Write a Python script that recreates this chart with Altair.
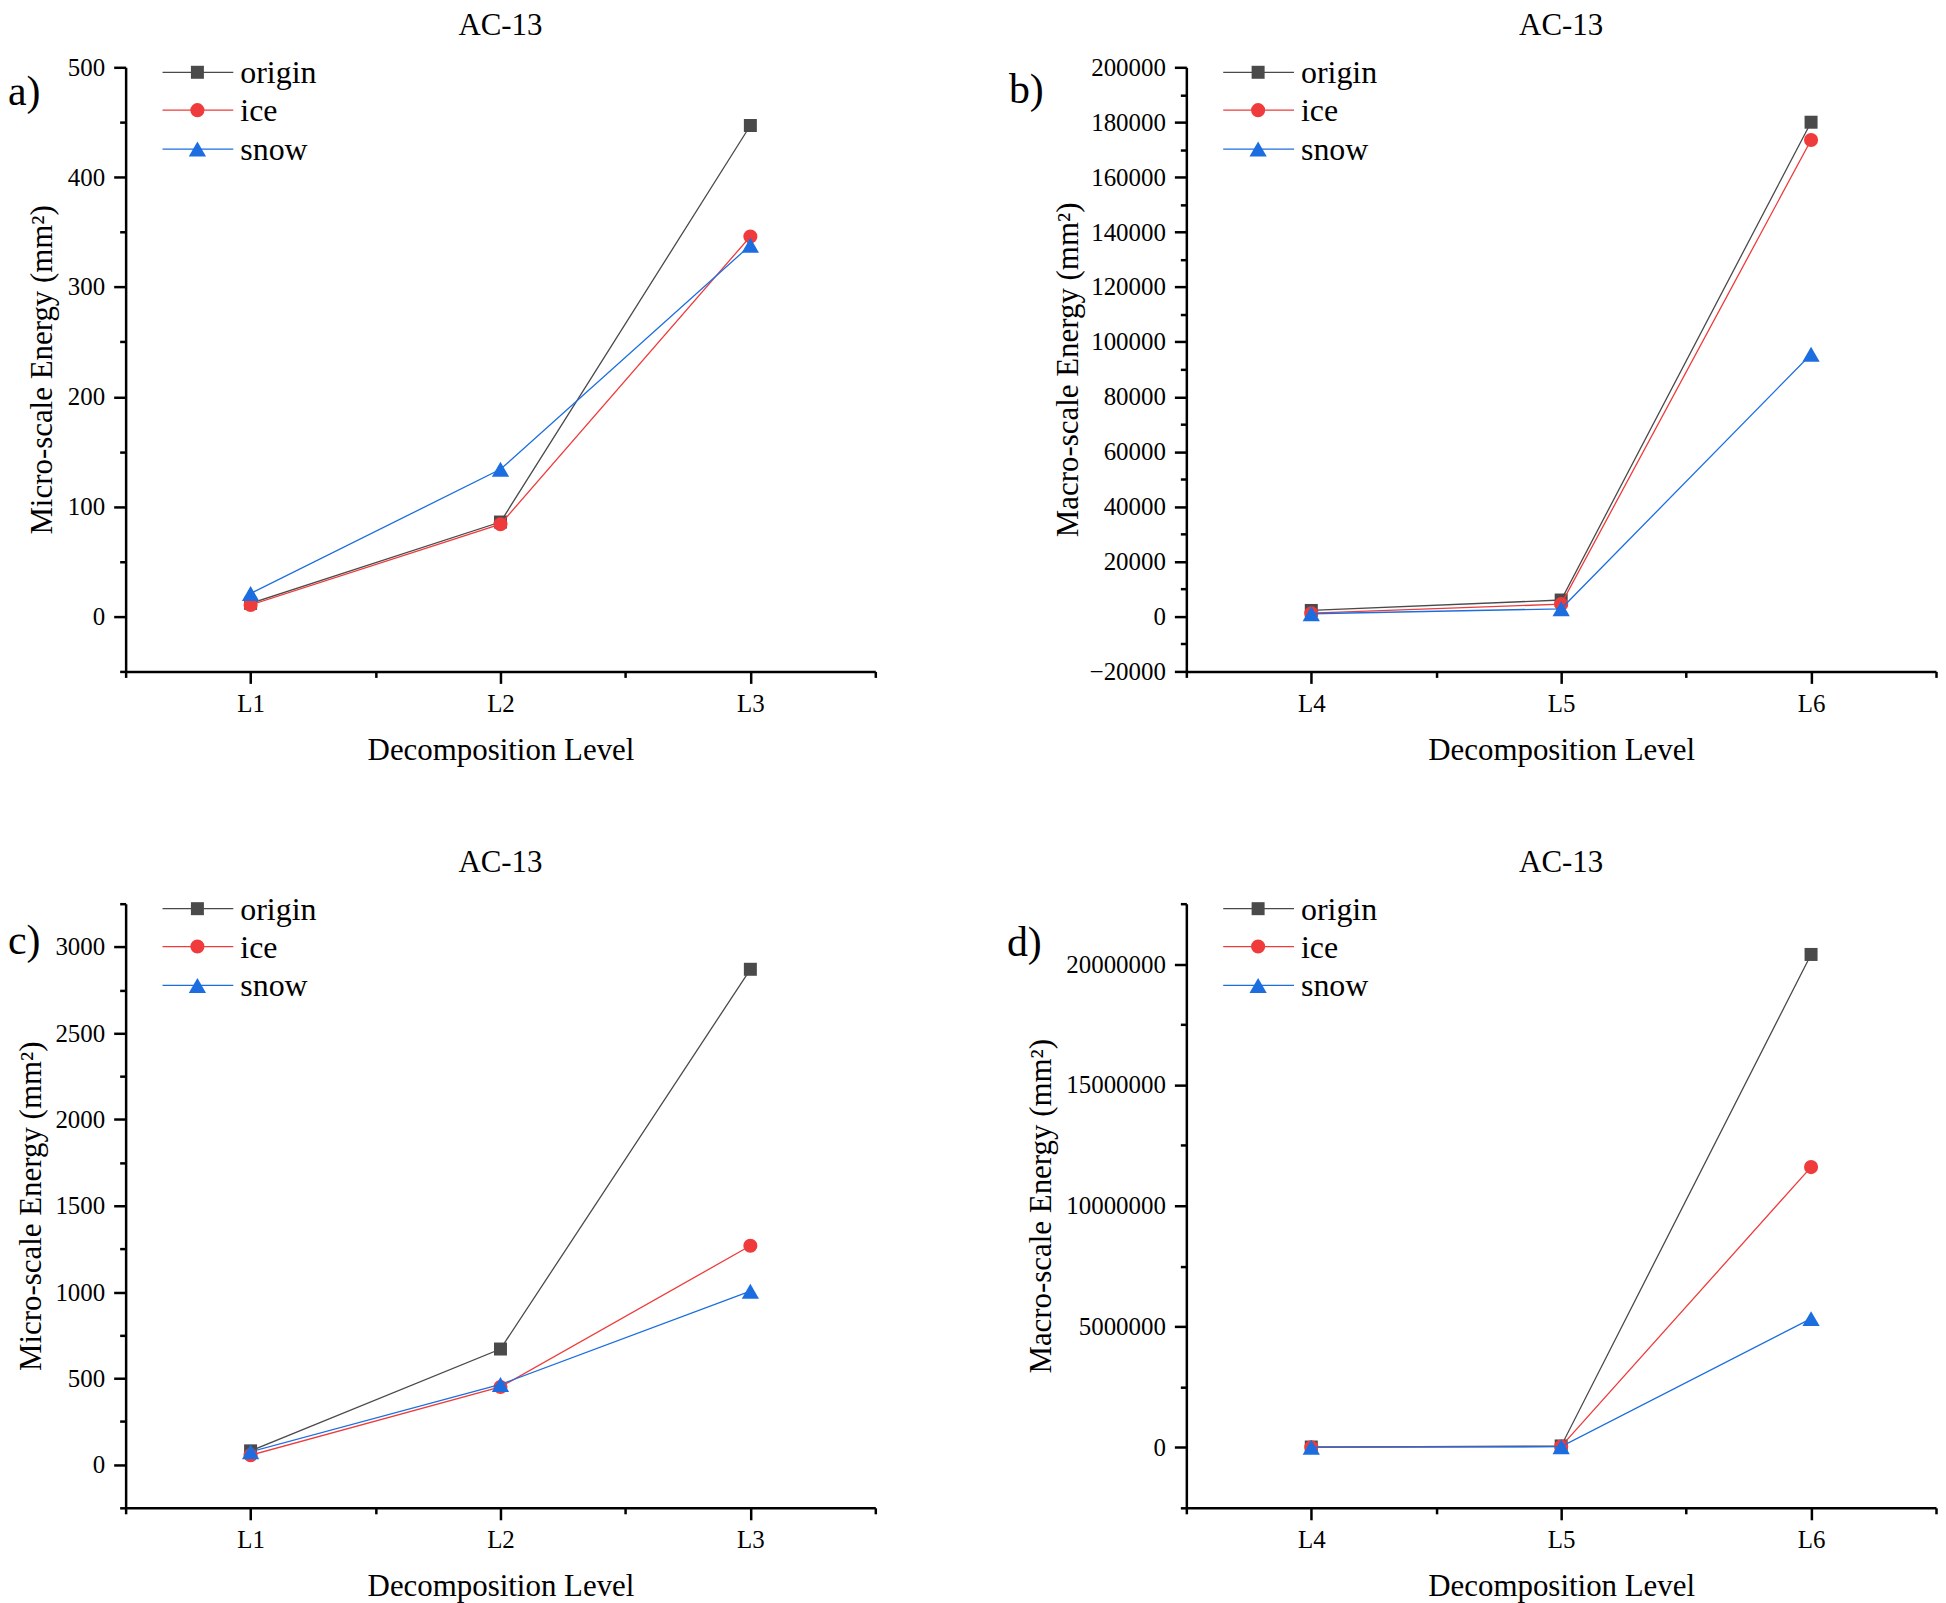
import altair as alt
import pandas as pd

FONT = "Liberation Serif"

series = ["origin", "ice", "snow"]
colors = ["#4a4a4a", "#ef3b3b", "#1c6ee0"]
shapes = ["square", "circle", "triangle-up"]
sizes = [170, 200, 300]

levels_micro = ["L1", "L2", "L3"]
levels_macro = ["L4", "L5", "L6"]

# panel a) micro-scale, first set
a_origin = [12, 86, 447]
a_ice = [10.5, 84, 346]
a_snow = [21, 134, 338]

# panel b) macro-scale, first set
b_origin = [2200, 6000, 180000]
b_ice = [1200, 4500, 173500]
b_snow = [1000, 2800, 95500]

# panel c) micro-scale, second set
c_origin = [80, 670, 2870]
c_ice = [55, 450, 1268]
c_snow = [75, 465, 1005]

# panel d) macro-scale, second set
d_origin = [15000, 60000, 20400000]
d_ice = [8000, 40000, 11600000]
d_snow = [10000, 30000, 5330000]

W, H = 752, 606


def frange(lo, hi, step):
    out = []
    v = lo
    while v <= hi + step * 1e-6:
        out.append(int(v))
        v += step
    return out


def panel(levels, vals, ydom, ymajor, yminor, ytitle, letter, letter_dx, letter_dy, title_pad):
    rows = []
    for s, v in zip(series, vals):
        for i, (lv, y) in enumerate(zip(levels, v)):
            rows.append({"series": s, "pos": i + 1, "level": lv, "value": y})
    df = pd.DataFrame(rows)
    arr = "[" + ",".join("'%s'" % l for l in levels) + "]"

    xaxis = alt.Axis(
        values=[0.5, 1, 1.5, 2, 2.5, 3, 3.5],
        labelExpr="datum.value %% 1 == 0 ? %s[datum.value - 1] : ''" % arr,
        tickSize={"condition": {"test": "datum.value % 1 == 0", "value": 12}, "value": 6},
        title="Decomposition Level",
        labelPadding=8,
        titlePadding=19,
    )
    yaxis = alt.Axis(
        values=frange(ydom[0], ydom[1], yminor),
        format="d",
        labelExpr="datum.value %% %d == 0 ? datum.label : ''" % ymajor,
        tickSize={"condition": {"test": "datum.value %% %d == 0" % ymajor, "value": 12}, "value": 6},
        title=ytitle,
        labelPadding=9,
        titlePadding=title_pad,
    )
    x = alt.X("pos:Q", scale=alt.Scale(domain=[0.5, 3.5], nice=False, zero=False), axis=xaxis)
    y = alt.Y("value:Q", scale=alt.Scale(domain=ydom, nice=False, zero=False), axis=yaxis)

    base = alt.Chart(df)
    layers = []
    for s, c, sh, sz in zip(series, colors, shapes, sizes):
        sub = base.transform_filter(alt.datum.series == s)
        layers.append(sub.mark_line(color=c, strokeWidth=1.3).encode(x=x, y=y))
        layers.append(
            sub.mark_point(filled=True, shape=sh, size=sz, color=c, opacity=1).encode(x=x, y=y)
        )

    # legend (Origin style: line + marker + text)
    row_y = [5, 43, 82]
    for s, c, sh, sz, ry in zip(series, colors, shapes, sizes, row_y):
        ldf = pd.DataFrame({"series": [s]})
        lc = alt.Chart(ldf)
        layers.append(
            lc.mark_rule(color=c, strokeWidth=1.3).encode(
                x=alt.value(37), x2=alt.value(108), y=alt.value(ry)
            )
        )
        layers.append(
            lc.mark_point(filled=True, shape=sh, size=sz, color=c, opacity=1).encode(
                x=alt.value(72), y=alt.value(ry)
            )
        )
        layers.append(
            lc.mark_text(
                align="left", baseline="alphabetic", font=FONT, fontSize=32, color="black"
            ).encode(x=alt.value(115), y=alt.value(ry + 11), text="series:N")
        )

    tdf = pd.DataFrame({"t": [letter]})
    layers.append(
        alt.Chart(tdf)
        .mark_text(align="left", baseline="middle", font=FONT, fontSize=42, color="black")
        .encode(x=alt.value(letter_dx), y=alt.value(letter_dy), text="t:N")
    )

    return alt.layer(*layers).properties(
        width=W,
        height=H,
        title=alt.TitleParams(
            "AC-13",
            font=FONT,
            fontSize=31,
            fontWeight="normal",
            color="black",
            offset=13,
            frame="group",
            anchor="middle",
        ),
    )


ytitle_micro = "Micro-scale Energy (mm²)"
ytitle_macro = "Macro-scale Energy (mm²)"

pa = panel(levels_micro, [a_origin, a_ice, a_snow], [-50, 500], 100, 50,
           ytitle_micro, "a)", -118, 25, 9)
pb = panel(levels_macro, [b_origin, b_ice, b_snow], [-20000, 200000], 20000, 10000,
           ytitle_macro, "b)", -178, 23, 5)
pc = panel(levels_micro, [c_origin, c_ice, c_snow], [-250, 3250], 500, 250,
           ytitle_micro, "c)", -118, 37, 7)
pd_ = panel(levels_macro, [d_origin, d_ice, d_snow], [-2500000, 22500000], 5000000, 2500000,
            ytitle_macro, "d)", -180, 39, 8)

chart = (
    alt.concat(pa, pb, pc, pd_, columns=2, spacing={"row": 233, "column": 312}, bounds="flush")
    .properties(padding=0, background="white")
    .configure_view(strokeWidth=0)
    .configure_axis(
        grid=False,
        domainColor="black",
        domainWidth=2.5,
        tickColor="black",
        tickWidth=2.5,
        labelFont=FONT,
        labelFontSize=25,
        labelColor="black",
        titleFont=FONT,
        titleFontSize=31,
        titleFontWeight="normal",
        titleColor="black",
        labelOverlap=False,
        labelFlush=False,
    )
)

chart.save("out.html", embed_options={"renderer": "svg", "actions": False})
